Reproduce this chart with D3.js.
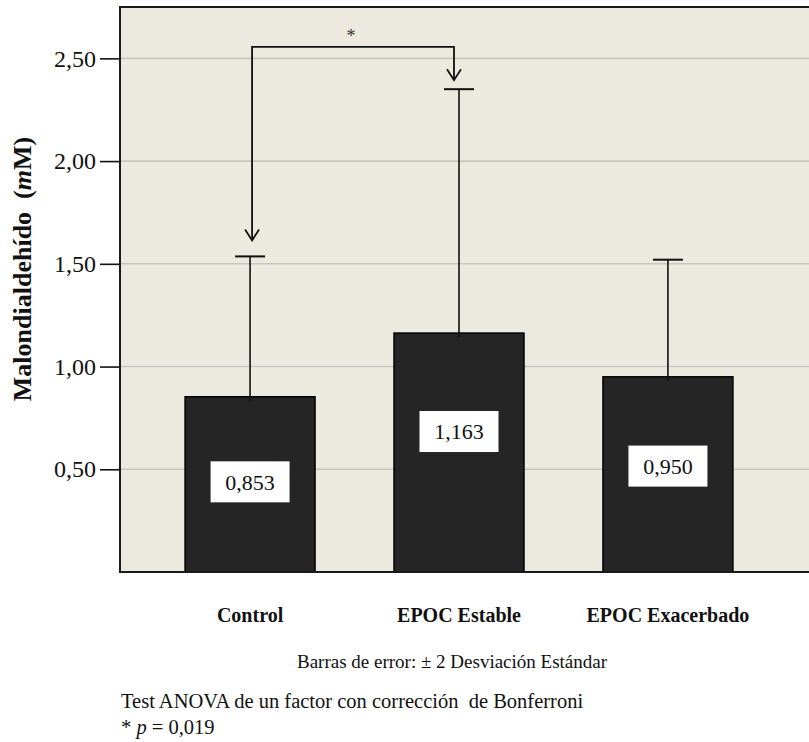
<!DOCTYPE html>
<html>
<head>
<meta charset="utf-8">
<script src="https://cdn.jsdelivr.net/npm/d3@7"></script>
<style>
  body { margin: 0; background: #fff; }
  svg text { font-family: "Liberation Serif", "Times New Roman", serif; }
</style>
</head>
<body>
<div class="chart"></div>
<script>
// Data
var categories = ["Control", "EPOC Estable", "EPOC Exacerbado"];
var means = [0.853, 1.163, 0.950];
var upperErr = [1.536, 2.35, 1.52];   // media + 2 DE
var yTicks = [0.5, 1.0, 1.5, 2.0, 2.5];
var sigPair = ["Control", "EPOC Estable"];

var W = 809, H = 742;
var plot = {left: 120, top: 7, right: 809, bottom: 572};

var svg = d3.select('.chart')
  .append('svg')
    .attr('width', W)
    .attr('height', H);

// Scales
var x = d3.scaleBand()
  .domain(categories)
  .range([plot.left, 798])
  .paddingInner(0.378)
  .paddingOuter(0.3115);

var y = d3.scaleLinear()
  .domain([0, 2.75])
  .range([plot.bottom, plot.top]);

// Background
svg.append("rect")
  .attr("x", plot.left)
  .attr("y", plot.top)
  .attr("width", plot.right - plot.left + 5)
  .attr("height", plot.bottom - plot.top)
  .attr("fill", "#ECEADF");

// Grid lines
svg.append("g")
  .selectAll("line")
  .data(yTicks)
  .join("line")
    .attr("x1", plot.left)
    .attr("x2", plot.right)
    .attr("y1", d => y(d))
    .attr("y2", d => y(d))
    .attr("stroke", "#C6C6C2")
    .attr("stroke-width", 1.6);

// Y axis
var y_axis = svg.append("g")
  .attr("transform", `translate(${plot.left},0)`)
  .call(d3.axisLeft(y)
    .tickValues(yTicks)
    .tickSize(20)
    .tickPadding(4)
    .tickFormat(d => d.toFixed(2).replace('.', ',')));
y_axis.select(".domain").remove();
y_axis.selectAll(".tick line")
  .attr("stroke", "#111")
  .attr("stroke-width", 1.6);
y_axis.selectAll(".tick text")
  .attr("fill", "#111")
  .style("font-family", "Liberation Serif")
  .style("font-size", "24px");

// Bars
svg.append("g")
  .selectAll("rect")
  .data(categories)
  .join("rect")
    .attr("x", d => x(d))
    .attr("y", (d, i) => y(means[i]))
    .attr("width", x.bandwidth())
    .attr("height", (d, i) => y(0) - y(means[i]))
    .attr("fill", "#252525")
    .attr("stroke", "#000")
    .attr("stroke-width", 1.5);

// Error bars
var err = svg.append("g")
  .attr("stroke", "#111")
  .attr("stroke-width", 1.6);
err.selectAll(".whisker")
  .data(categories)
  .join("line")
    .attr("class", "whisker")
    .attr("x1", d => x(d) + x.bandwidth() / 2)
    .attr("x2", d => x(d) + x.bandwidth() / 2)
    .attr("y1", (d, i) => y(means[i]) + 4)
    .attr("y2", (d, i) => y(upperErr[i]));
err.selectAll(".cap")
  .data(categories)
  .join("line")
    .attr("class", "cap")
    .attr("x1", d => x(d) + x.bandwidth() / 2 - 15)
    .attr("x2", d => x(d) + x.bandwidth() / 2 + 15)
    .attr("y1", (d, i) => y(upperErr[i]))
    .attr("y2", (d, i) => y(upperErr[i]))
    .attr("stroke-width", 2);

// Value labels (white boxes)
var labels = svg.append("g")
  .selectAll("g")
  .data(categories)
  .join("g")
    .attr("transform", (d, i) =>
      `translate(${x(d) + x.bandwidth() / 2},${y(means[i] * 0.79 - 0.235)})`);
labels.append("rect")
  .attr("x", -39.5)
  .attr("y", -20.5)
  .attr("width", 79)
  .attr("height", 41)
  .attr("fill", "#fff");
labels.append("text")
  .attr("text-anchor", "middle")
  .attr("dy", "0.35em")
  .style("font-size", "22px")
  .attr("fill", "#111")
  .text((d, i) => means[i].toFixed(3).replace('.', ','));

// Frame (left, top, bottom)
svg.append("path")
  .attr("d", `M${plot.right + 5},${plot.top}H${plot.left}V${plot.bottom}H${plot.right + 5}`)
  .attr("fill", "none")
  .attr("stroke", "#1a1a1a")
  .attr("stroke-width", 2);

// Significance bracket
var i0 = categories.indexOf(sigPair[0]), i1 = categories.indexOf(sigPair[1]);
var bx0 = x(sigPair[0]) + x.bandwidth() / 2 + 2;
var bx1 = x(sigPair[1]) + x.bandwidth() / 2 - 5;
var by = y(2.556);
var tip0 = y(upperErr[i0]) - 16;
var tip1 = y(upperErr[i1]) - 9;
svg.append("path")
  .attr("d", `M${bx0},${tip0}V${by}H${bx1}V${tip1}`)
  .attr("fill", "none")
  .attr("stroke", "#111")
  .attr("stroke-width", 1.8);
[[bx0, tip0], [bx1, tip1]].forEach(function(p) {
  svg.append("path")
    .attr("d", `M${p[0] - 7},${p[1] - 11}L${p[0]},${p[1]}L${p[0] + 7},${p[1] - 11}`)
    .attr("fill", "none")
    .attr("stroke", "#111")
    .attr("stroke-width", 1.8);
});
svg.append("text")
  .attr("x", (bx0 + bx1) / 2 - 2)
  .attr("y", by - 5)
  .attr("text-anchor", "middle")
  .style("font-size", "18px")
  .attr("fill", "#333")
  .text("*");

// Category labels
svg.append("g")
  .selectAll("text")
  .data(categories)
  .join("text")
    .attr("x", d => x(d) + x.bandwidth() / 2)
    .attr("y", 622)
    .attr("text-anchor", "middle")
    .style("font-size", "20px")
    .style("font-weight", "bold")
    .attr("fill", "#111")
    .text(d => d);

// Y axis title
svg.append("text")
  .attr("transform", "translate(31,269) rotate(-90)")
  .attr("text-anchor", "middle")
  .style("font-size", "26px")
  .style("font-weight", "bold")
  .attr("fill", "#111")
  .html('Malondialdehído\u00A0 (<tspan font-style="italic">m</tspan>M)');

// Notes
svg.append("text")
  .attr("x", 452)
  .attr("y", 668)
  .attr("text-anchor", "middle")
  .style("font-size", "19px")
  .attr("fill", "#111")
  .text("Barras de error: ± 2 Desviación Estándar");

svg.append("text")
  .attr("x", 121)
  .attr("y", 708)
  .style("font-size", "20.5px")
  .attr("fill", "#111")
  .text("Test ANOVA de un factor con corrección\u00A0 de Bonferroni");

svg.append("text")
  .attr("x", 121)
  .attr("y", 734)
  .style("font-size", "20.5px")
  .attr("fill", "#111")
  .html('* <tspan font-style="italic">p</tspan> = 0,019');
</script>
</body>
</html>
